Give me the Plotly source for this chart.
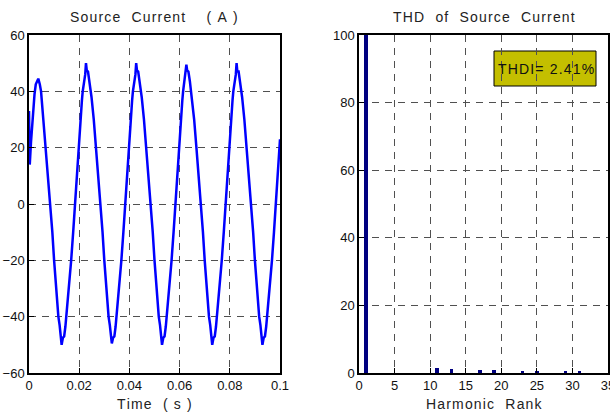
import plotly.graph_objects as go

# ---- Left chart: source current waveform ----
time_s = [
    0.0000, 0.0003, 0.0008, 0.0015, 0.0022, 0.0027, 0.0031, 0.0037, 0.0043, 0.0048,
    0.0057, 0.0066, 0.0076, 0.0086,
    0.0093, 0.0100, 0.0107, 0.0114, 0.0117, 0.0122, 0.0126, 0.0130, 0.0135, 0.0140,
    0.0145, 0.0151, 0.0160, 0.0168, 0.0176,
    0.0183, 0.0190, 0.0197, 0.0204, 0.0211, 0.0214, 0.0219, 0.0224, 0.0227, 0.0230,
    0.0235, 0.0241, 0.0249, 0.0258, 0.0267, 0.0276, 0.0286, 0.0293, 0.0300, 0.0307,
    0.0314, 0.0317, 0.0322, 0.0326, 0.0330, 0.0335, 0.0340, 0.0345, 0.0351, 0.0360,
    0.0368, 0.0376,
    0.0383, 0.0390, 0.0397, 0.0404, 0.0411, 0.0414, 0.0419, 0.0424, 0.0427, 0.0430,
    0.0435, 0.0441, 0.0449, 0.0458, 0.0467, 0.0476, 0.0486, 0.0493, 0.0500, 0.0507,
    0.0514, 0.0517, 0.0522, 0.0526, 0.0530, 0.0535, 0.0540, 0.0545, 0.0551, 0.0560,
    0.0568, 0.0576,
    0.0583, 0.0590, 0.0597, 0.0604, 0.0611, 0.0614, 0.0619, 0.0624, 0.0627, 0.0630,
    0.0635, 0.0641, 0.0649, 0.0658, 0.0667, 0.0676, 0.0686, 0.0693, 0.0700, 0.0707,
    0.0714, 0.0717, 0.0722, 0.0726, 0.0730, 0.0735, 0.0740, 0.0745, 0.0751, 0.0760,
    0.0768, 0.0776,
    0.0783, 0.0790, 0.0797, 0.0804, 0.0811, 0.0814, 0.0819, 0.0824, 0.0827, 0.0830,
    0.0835, 0.0841, 0.0849, 0.0858, 0.0867, 0.0876, 0.0886, 0.0893, 0.0900, 0.0907,
    0.0914, 0.0917, 0.0922, 0.0926, 0.0930, 0.0935, 0.0940, 0.0945, 0.0951, 0.0960,
    0.0968, 0.0976,
    0.0983, 0.0990, 0.0997, 0.1000,
]
current_a = [
    33.0, 14.0, 22.0, 32.0, 39.0, 42.5, 43.5, 44.5, 42.5, 40.0,
    30.0, 20.0, 10.0, 0.0,
    -10.0, -20.0, -29.0, -37.0, -40.0, -43.0, -46.0, -50.0, -47.5, -47.0,
    -43.5, -38.0, -30.0, -20.0, -10.0,
    0.0, 10.0, 20.0, 29.0, 37.0, 40.0, 43.0, 46.0, 50.0, 47.5,
    47.0, 43.5, 38.0, 30.0, 20.0, 10.0, 0.0, -10.0, -20.0, -29.0,
    -37.0, -40.0, -43.0, -46.0, -49.5, -47.5, -47.0, -43.5, -38.0, -30.0,
    -20.0, -10.0,
    0.0, 10.0, 20.0, 29.0, 37.0, 40.0, 43.0, 46.0, 50.0, 47.5,
    47.0, 43.5, 38.0, 30.0, 20.0, 10.0, 0.0, -10.0, -20.0, -29.0,
    -37.0, -40.0, -43.0, -46.0, -50.0, -47.5, -47.0, -43.5, -38.0, -30.0,
    -20.0, -10.0,
    0.0, 10.0, 20.0, 29.0, 37.0, 40.0, 43.0, 46.0, 49.5, 47.5,
    47.0, 43.5, 38.0, 30.0, 20.0, 10.0, 0.0, -10.0, -20.0, -29.0,
    -37.0, -40.0, -43.0, -46.0, -50.0, -47.5, -47.0, -43.5, -38.0, -30.0,
    -20.0, -10.0,
    0.0, 10.0, 20.0, 29.0, 37.0, 40.0, 43.0, 46.0, 50.0, 47.0,
    47.0, 43.5, 38.0, 30.0, 20.0, 10.0, 0.0, -10.0, -20.0, -29.0,
    -37.0, -40.0, -43.0, -46.0, -50.0, -47.5, -47.0, -43.5, -38.0, -30.0,
    -20.0, -10.0,
    0.0, 10.0, 20.0, 23.0,
]

# ---- Right chart: harmonic spectrum (% of fundamental) ----
harmonic_rank = [1, 11, 13, 17, 19, 23, 25, 29, 31]
harmonic_pct = [100, 1.6, 1.2, 1.0, 0.8, 0.7, 0.7, 0.4, 0.3]

left_xticks = [0, 0.02, 0.04, 0.06, 0.08, 0.1]
left_xticklabels = ["0", "0.02", "0.04", "0.06", "0.08", "0.1"]
left_yticks = [-60, -40, -20, 0, 20, 40, 60]
right_xticks = [0, 5, 10, 15, 20, 25, 30, 35]
right_yticks = [0, 20, 40, 60, 80, 100]

thd_text = "THDI= 2.41%"

FONT = "Liberation Sans, Arial, sans-serif"
HS = "\u200a"   # hair space used as letter spacing
NB = "\u00a0"   # non-breaking space for word gaps


def spaced(s):
    return HS.join(NB if c == " " else c for c in s)


fig = go.Figure()
fig.add_trace(go.Scatter(
    x=time_s, y=current_a, mode="lines",
    line=dict(color="#0000ff", width=2.5),
    xaxis="x", yaxis="y", showlegend=False,
))
fig.add_trace(go.Bar(
    x=harmonic_rank, y=harmonic_pct, width=0.5,
    marker=dict(color="#000080", line=dict(width=0)),
    xaxis="x2", yaxis="y2", showlegend=False,
))

grid = dict(showgrid=True, gridcolor="#505050", gridwidth=1, griddash="7px,6px",
            showline=True, linecolor="black", linewidth=1.5, mirror=True,
            ticks="inside", ticklen=5, tickcolor="black", zeroline=False,
            automargin=False, ticklabeloverflow="allow",
            tickfont=dict(family=FONT, size=13, color="#111"))

title_font = dict(family=FONT, size=14, color="#222")
ydom = [1 - 373 / 416, 1 - 35 / 416]
fig.update_layout(
    width=610, height=416,
    margin=dict(l=0, r=0, t=0, b=0, autoexpand=False),
    paper_bgcolor="white", plot_bgcolor="white",
    bargap=0,
    xaxis=dict(domain=[29 / 610, 280 / 610], range=[0, 0.1],
               tickvals=left_xticks, ticktext=left_xticklabels, anchor="y",
               **grid),
    yaxis=dict(domain=ydom, range=[-60, 60], tickvals=left_yticks, anchor="x",
               **grid),
    xaxis2=dict(domain=[359 / 610, 608 / 610], range=[0, 35],
                tickvals=right_xticks, anchor="y2",
                **grid),
    yaxis2=dict(domain=ydom, range=[0, 100], tickvals=right_yticks, anchor="x2",
                **grid),
    annotations=[
        dict(text=spaced("Source  Current    ( A )"),
             x=154 / 610, y=1 - 17 / 416, xref="paper", yref="paper",
             xanchor="center", yanchor="middle",
             showarrow=False, font=title_font),
        dict(text=spaced("THD  of  Source  Current"),
             x=484 / 610, y=1 - 17 / 416, xref="paper", yref="paper",
             xanchor="center", yanchor="middle",
             showarrow=False, font=title_font),
        dict(text=spaced("Time  ( s )"),
             x=154 / 610, y=1 - 404 / 416, xref="paper", yref="paper",
             xanchor="center", yanchor="middle",
             showarrow=False, font=title_font),
        dict(text=spaced("Harmonic  Rank"),
             x=484 / 610, y=1 - 404 / 416, xref="paper", yref="paper",
             xanchor="center", yanchor="middle",
             showarrow=False, font=title_font),
        dict(text=spaced(thd_text), x=545.5 / 610, y=1 - 68.5 / 416,
             xref="paper", yref="paper", showarrow=False,
             xanchor="center", yanchor="middle",
             font=dict(family=FONT, size=14, color="#111")),
    ],
    shapes=[
        dict(type="rect", xref="paper", yref="paper",
             x0=494 / 610, x1=596 / 610, y0=1 - 86 / 416, y1=1 - 51 / 416,
             fillcolor="#c4bf00", line=dict(color="black", width=1), layer="below"),
    ],
)

fig.write_html("out.html")
